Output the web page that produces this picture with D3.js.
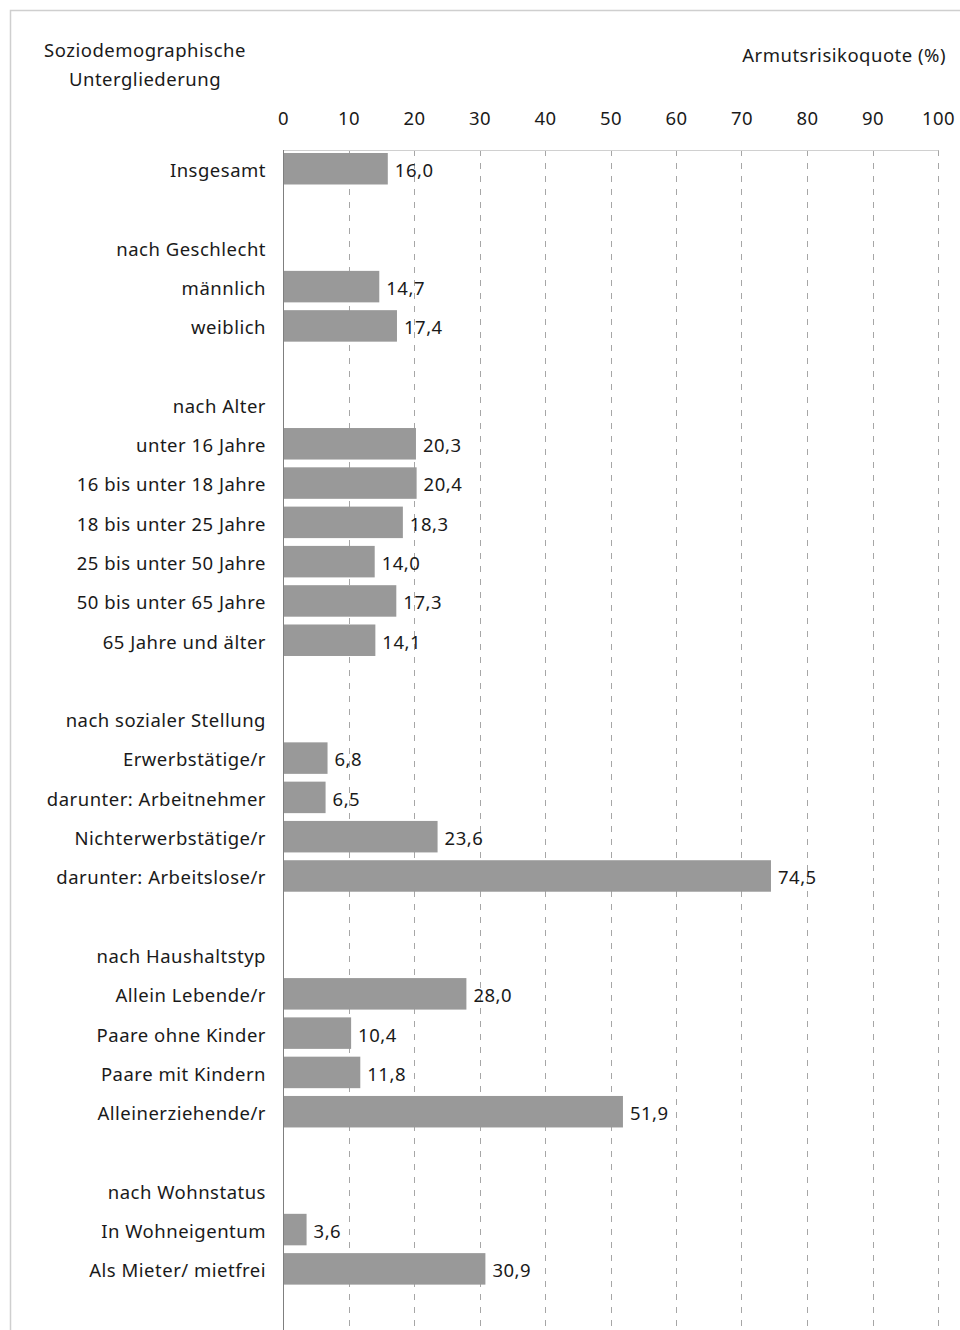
<!DOCTYPE html>
<html><head><meta charset="utf-8">
<script src="https://cdn.jsdelivr.net/npm/d3@7"></script>
<style>body{margin:0;background:#fff}svg text{font-family:"Noto Sans",sans-serif;fill:#1a1a1a;letter-spacing:0.5px}</style>
</head><body><svg id="c" width="960" height="1330"></svg>
<script>
const categories = ["Insgesamt","", "nach Geschlecht","männlich","weiblich","",
 "nach Alter","unter 16 Jahre","16 bis unter 18 Jahre","18 bis unter 25 Jahre","25 bis unter 50 Jahre","50 bis unter 65 Jahre","65 Jahre und älter","",
 "nach sozialer Stellung","Erwerbstätige/r","darunter: Arbeitnehmer","Nichterwerbstätige/r","darunter: Arbeitslose/r","",
 "nach Haushaltstyp","Allein Lebende/r","Paare ohne Kinder","Paare mit Kindern","Alleinerziehende/r","",
 "nach Wohnstatus","In Wohneigentum","Als Mieter/ mietfrei",""];
const values = [16.0,null,null,14.7,17.4,null,
 null,20.3,20.4,18.3,14.0,17.3,14.1,null,
 null,6.8,6.5,23.6,74.5,null,
 null,28.0,10.4,11.8,51.9,null,
 null,3.6,30.9,null];
const tickValues = [0,10,20,30,40,50,60,70,80,90,100];
const yTitle = ["Soziodemographische","Untergliederung"];
const xTitle = "Armutsrisikoquote (%)";

const FS = "18.5px";
const svg = d3.select("#c");
const ids = categories.map((c,i)=>i);
const x = d3.scaleLinear().domain([0,100]).range([283,938]);
const y = d3.scaleBand().domain(ids).range([150,150+30*39.29]).padding(0);

// frame
svg.append("path").attr("d","M10.5,1330V10.5H960").attr("fill","none").attr("stroke","#cfcfcf").attr("stroke-width",1.5);

// gridlines
svg.append("g").selectAll("line").data(tickValues.filter(d=>d>0)).join("line")
 .attr("x1",d=>Math.round(x(d))+0.5).attr("x2",d=>Math.round(x(d))+0.5)
 .attr("y1",150).attr("y2",1330).attr("stroke","#a6a6a6").attr("stroke-dasharray","6,7");
svg.append("line").attr("x1",283).attr("x2",Math.round(x(100))+0.5).attr("y1",150.5).attr("y2",150.5).attr("stroke","#d0d0d0");

// axis labels via d3 axis
const ax = svg.append("g").attr("transform","translate(0,125)")
 .call(d3.axisTop(x).tickValues(tickValues).tickSize(0).tickPadding(0));
ax.select(".domain").remove();
ax.selectAll("text").style("font-size",FS).attr("font-family","Noto Sans").attr("fill","#1a1a1a");

// bars
const fmt = v => d3.format(".1f")(v).replace(".",",");
const data = categories.map((c,i)=>({i,c,v:values[i]}));
svg.append("g").selectAll("rect").data(data.filter(d=>d.v!=null)).join("rect")
 .attr("x",x(0)).attr("y",d=>y(d.i)+3).attr("width",d=>x(d.v)-x(0)).attr("height",31.5)
 .attr("fill","#999999");
svg.append("g").selectAll("text").data(data.filter(d=>d.v!=null)).join("text")
 .attr("x",d=>x(d.v)+7).attr("y",d=>y(d.i)+y.bandwidth()/2+1).attr("dy","0.35em")
 .style("font-size",FS).text(d=>fmt(d.v));

// y axis line
svg.append("line").attr("x1",283.5).attr("x2",283.5).attr("y1",150).attr("y2",1330).attr("stroke","#7f7f7f");

// category labels
svg.append("g").selectAll("text").data(data.filter(d=>d.c)).join("text")
 .attr("x",266).attr("y",d=>y(d.i)+y.bandwidth()/2+1).attr("dy","0.35em").attr("text-anchor","end")
 .style("font-size",FS).text(d=>d.c);

// titles
svg.append("g").selectAll("text").data(yTitle).join("text")
 .attr("x",145).attr("y",(d,i)=>57+i*29).attr("text-anchor","middle").style("font-size",FS).text(d=>d);
svg.append("text").attr("x",946).attr("y",62).attr("text-anchor","end").style("font-size",FS).text(xTitle);
</script></body></html>
